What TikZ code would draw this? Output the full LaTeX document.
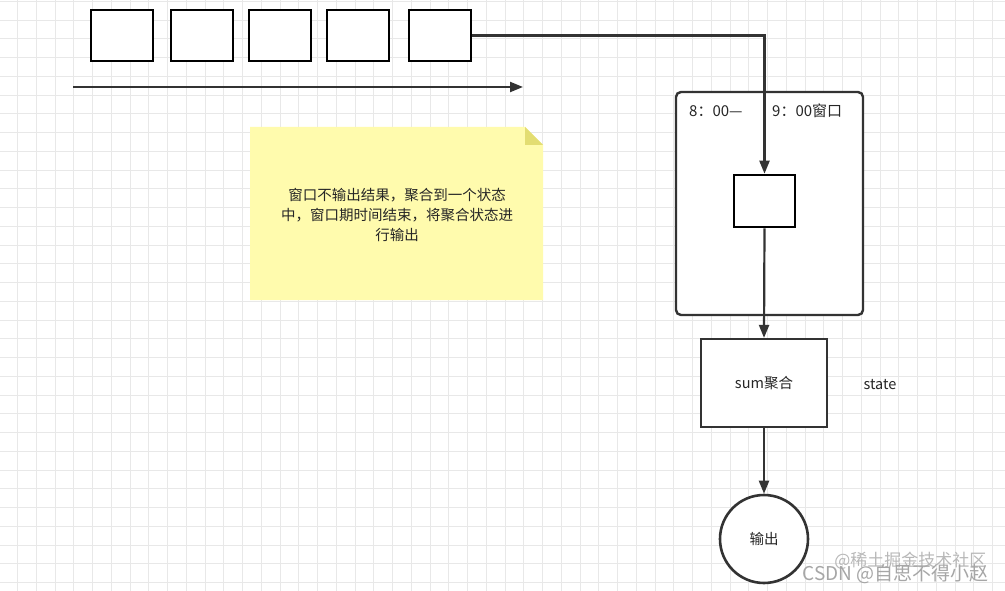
\documentclass[tikz,border=0pt]{standalone}
\usepackage{fontspec}
\setmainfont{Liberation Sans}
\newfontfamily\cjk{Noto Sans CJK SC}
\usetikzlibrary{arrows.meta}
\begin{document}
\begin{tikzpicture}[x=1pt,y=-1pt,
  box/.style={draw=black,line width=2.6pt,fill=white,inner sep=0pt},
  conn/.style={draw=black!80,line width=2.2pt,-{Triangle[length=13pt,width=10pt]}},
  txt/.style={font=\cjk\fontsize{14.5}{20}\selectfont,text=black!85}]
\useasboundingbox (0,0) rectangle (1005,591);
\fill[white] (0,0) rectangle (1005,591);
\foreach \i in {0,...,53} \draw[black!9,line width=0.8pt] (17.5+\i*18.75,0) -- (17.5+\i*18.75,591);
\foreach \i in {0,...,31} \draw[black!9,line width=0.8pt] (0,1.25+\i*18.75) -- (1005,1.25+\i*18.75);
% top boxes
\node[box,minimum width=62pt,minimum height=51pt] (b1) at (122,35.5) {};
\node[box,minimum width=62pt,minimum height=51pt] (b2) at (202,35.5) {};
\node[box,minimum width=62pt,minimum height=51pt] (b3) at (280,35.5) {};
\node[box,minimum width=62pt,minimum height=51pt] (b4) at (358,35.5) {};
\node[box,minimum width=62pt,minimum height=51pt] (b5) at (440,35.5) {};
% time arrow
\coordinate (t0) at (73,87); \coordinate (t1) at (523,87);
\draw[conn] (t0) -- (t1);
% note
\fill[yellow!32!white] (250,127) -- (525,127) -- (543,145) -- (543,300) -- (250,300) -- cycle;
\fill[yellow!50!olive!50!white] (525,127) -- (543,145) -- (525,145) -- cycle;
\node[txt,align=center] (note) at (397,215) {窗口不输出结果，聚合到一个状态\\中，窗口期时间结束，将聚合状态进\\行输出};
% window
\draw[black!80,line width=2.4pt,rounded corners=5pt,fill=white] (676,92) rectangle (863,315);
\node[txt,font=\cjk\fontsize{15}{18}\selectfont,anchor=west,inner sep=0pt] (wl) at (689,111) {8：00—};
\node[txt,font=\cjk\fontsize{15}{18}\selectfont,anchor=west,inner sep=0pt] (wr) at (772,111) {9：00窗口};
\node[box,minimum width=61pt,minimum height=52pt] (inner) at (764.5,201) {};
\node[draw=black!80,line width=2.2pt,fill=white,minimum width=126pt,minimum height=88pt,txt] (sum) at (764,383) {sum聚合};
\node[txt] (st) at (880,385) {state};
\node[draw=black!80,line width=2.6pt,fill=white,circle,minimum size=88pt,txt] (out) at (764,539) {输出};
\draw[conn] (b5.east) -| (inner.north);
\draw[conn] (inner.south) -- (sum.north);
\draw[conn] (sum.south) -- (out.north);
\node[font=\cjk\fontsize{17}{19}\selectfont,text=black!28,anchor=east] (w1) at (990,561) {@稀土掘金技术社区};
\node[font=\cjk\fontsize{19}{21}\selectfont,text=black!35,anchor=east] (w2) at (992,574) {CSDN @自思不得小赵};
\end{tikzpicture}
\end{document}
